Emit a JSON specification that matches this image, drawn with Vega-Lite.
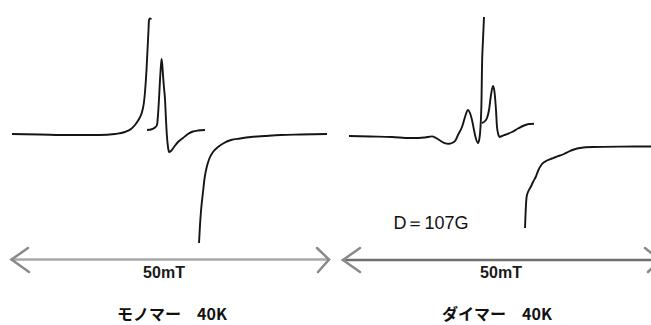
{
  "$schema": "https://vega.github.io/schema/vega-lite/v6.json",
  "width": 651,
  "height": 325,
  "autosize": {"type": "fit", "contains": "padding"},
  "padding": 0,
  "background": "white",
  "config": {"view": {"stroke": null}},
  "datasets": {
    "spectra": [
      {"seg": "L1", "i": 0, "x": 12, "y": 134},
      {"seg": "L1", "i": 1, "x": 40, "y": 134.5},
      {"seg": "L1", "i": 2, "x": 70, "y": 135},
      {"seg": "L1", "i": 3, "x": 99, "y": 135},
      {"seg": "L1", "i": 4, "x": 115, "y": 134},
      {"seg": "L1", "i": 5, "x": 125, "y": 132},
      {"seg": "L1", "i": 6, "x": 131, "y": 129},
      {"seg": "L1", "i": 7, "x": 135, "y": 125},
      {"seg": "L1", "i": 8, "x": 139, "y": 119},
      {"seg": "L1", "i": 9, "x": 142, "y": 112},
      {"seg": "L1", "i": 10, "x": 144, "y": 102},
      {"seg": "L1", "i": 11, "x": 145, "y": 92},
      {"seg": "L1", "i": 12, "x": 146.5, "y": 70},
      {"seg": "L1", "i": 13, "x": 147.5, "y": 50},
      {"seg": "L1", "i": 14, "x": 148.5, "y": 30},
      {"seg": "L1", "i": 15, "x": 149, "y": 20},
      {"seg": "L1", "i": 16, "x": 150, "y": 18.5},
      {"seg": "L1", "i": 17, "x": 151.5, "y": 19},
      {"seg": "L2", "i": 0, "x": 147, "y": 130},
      {"seg": "L2", "i": 1, "x": 151, "y": 129.5},
      {"seg": "L2", "i": 2, "x": 155, "y": 127.5},
      {"seg": "L2", "i": 3, "x": 157, "y": 125},
      {"seg": "L2", "i": 4, "x": 158, "y": 115},
      {"seg": "L2", "i": 5, "x": 159, "y": 99},
      {"seg": "L2", "i": 6, "x": 160, "y": 80},
      {"seg": "L2", "i": 7, "x": 161, "y": 65},
      {"seg": "L2", "i": 8, "x": 161.7, "y": 59},
      {"seg": "L2", "i": 9, "x": 163, "y": 75},
      {"seg": "L2", "i": 10, "x": 164, "y": 88},
      {"seg": "L2", "i": 11, "x": 165, "y": 99},
      {"seg": "L2", "i": 12, "x": 166, "y": 120},
      {"seg": "L2", "i": 13, "x": 167, "y": 137},
      {"seg": "L2", "i": 14, "x": 168, "y": 147},
      {"seg": "L2", "i": 15, "x": 169, "y": 152},
      {"seg": "L2", "i": 16, "x": 171, "y": 151},
      {"seg": "L2", "i": 17, "x": 174, "y": 147},
      {"seg": "L2", "i": 18, "x": 178, "y": 142},
      {"seg": "L2", "i": 19, "x": 183, "y": 138},
      {"seg": "L2", "i": 20, "x": 188, "y": 134},
      {"seg": "L2", "i": 21, "x": 193, "y": 131.5},
      {"seg": "L2", "i": 22, "x": 198, "y": 130.5},
      {"seg": "L2", "i": 23, "x": 205, "y": 130},
      {"seg": "L3", "i": 0, "x": 199, "y": 243},
      {"seg": "L3", "i": 1, "x": 200, "y": 225},
      {"seg": "L3", "i": 2, "x": 201, "y": 211},
      {"seg": "L3", "i": 3, "x": 203, "y": 192},
      {"seg": "L3", "i": 4, "x": 204.6, "y": 178},
      {"seg": "L3", "i": 5, "x": 207, "y": 166},
      {"seg": "L3", "i": 6, "x": 209.6, "y": 158},
      {"seg": "L3", "i": 7, "x": 213, "y": 152},
      {"seg": "L3", "i": 8, "x": 218, "y": 147},
      {"seg": "L3", "i": 9, "x": 224, "y": 143},
      {"seg": "L3", "i": 10, "x": 231, "y": 140},
      {"seg": "L3", "i": 11, "x": 240, "y": 138.5},
      {"seg": "L3", "i": 12, "x": 251, "y": 137},
      {"seg": "L3", "i": 13, "x": 265, "y": 136},
      {"seg": "L3", "i": 14, "x": 280.5, "y": 135},
      {"seg": "L3", "i": 15, "x": 300, "y": 134.5},
      {"seg": "L3", "i": 16, "x": 327, "y": 134},
      {"seg": "R1", "i": 0, "x": 349, "y": 136},
      {"seg": "R1", "i": 1, "x": 370, "y": 136.5},
      {"seg": "R1", "i": 2, "x": 392, "y": 137},
      {"seg": "R1", "i": 3, "x": 410, "y": 138},
      {"seg": "R1", "i": 4, "x": 418.6, "y": 138},
      {"seg": "R1", "i": 5, "x": 425, "y": 137.5},
      {"seg": "R1", "i": 6, "x": 432, "y": 136.4},
      {"seg": "R1", "i": 7, "x": 436, "y": 138},
      {"seg": "R1", "i": 8, "x": 440, "y": 140.5},
      {"seg": "R1", "i": 9, "x": 444, "y": 142.8},
      {"seg": "R1", "i": 10, "x": 448.7, "y": 143.8},
      {"seg": "R1", "i": 11, "x": 452, "y": 143},
      {"seg": "R1", "i": 12, "x": 455.4, "y": 140.5},
      {"seg": "R1", "i": 13, "x": 458, "y": 135},
      {"seg": "R1", "i": 14, "x": 462, "y": 127},
      {"seg": "R1", "i": 15, "x": 465, "y": 117},
      {"seg": "R1", "i": 16, "x": 468, "y": 110},
      {"seg": "R1", "i": 17, "x": 470, "y": 113},
      {"seg": "R1", "i": 18, "x": 472, "y": 120},
      {"seg": "R1", "i": 19, "x": 474, "y": 130},
      {"seg": "R1", "i": 20, "x": 475.5, "y": 137},
      {"seg": "R1", "i": 21, "x": 478, "y": 143},
      {"seg": "R1", "i": 22, "x": 479.5, "y": 138},
      {"seg": "R1", "i": 23, "x": 480.5, "y": 127},
      {"seg": "R1", "i": 24, "x": 481.5, "y": 100},
      {"seg": "R1", "i": 25, "x": 482, "y": 67},
      {"seg": "R1", "i": 26, "x": 483, "y": 40},
      {"seg": "R1", "i": 27, "x": 484, "y": 17},
      {"seg": "R2", "i": 0, "x": 482, "y": 123},
      {"seg": "R2", "i": 1, "x": 485, "y": 121},
      {"seg": "R2", "i": 2, "x": 487, "y": 118},
      {"seg": "R2", "i": 3, "x": 489, "y": 110},
      {"seg": "R2", "i": 4, "x": 491, "y": 95},
      {"seg": "R2", "i": 5, "x": 493, "y": 86},
      {"seg": "R2", "i": 6, "x": 494.5, "y": 92},
      {"seg": "R2", "i": 7, "x": 496, "y": 110},
      {"seg": "R2", "i": 8, "x": 497, "y": 127},
      {"seg": "R2", "i": 9, "x": 498.5, "y": 135},
      {"seg": "R2", "i": 10, "x": 499.6, "y": 137},
      {"seg": "R2", "i": 11, "x": 502, "y": 136},
      {"seg": "R2", "i": 12, "x": 506, "y": 134.5},
      {"seg": "R2", "i": 13, "x": 512, "y": 132},
      {"seg": "R2", "i": 14, "x": 518, "y": 128.5},
      {"seg": "R2", "i": 15, "x": 524, "y": 125.5},
      {"seg": "R2", "i": 16, "x": 529, "y": 124},
      {"seg": "R2", "i": 17, "x": 534, "y": 123.7},
      {"seg": "R3", "i": 0, "x": 525, "y": 228},
      {"seg": "R3", "i": 1, "x": 525.5, "y": 215},
      {"seg": "R3", "i": 2, "x": 526.6, "y": 197},
      {"seg": "R3", "i": 3, "x": 528, "y": 192},
      {"seg": "R3", "i": 4, "x": 530.7, "y": 187},
      {"seg": "R3", "i": 5, "x": 533, "y": 182},
      {"seg": "R3", "i": 6, "x": 535.7, "y": 177},
      {"seg": "R3", "i": 7, "x": 538, "y": 171},
      {"seg": "R3", "i": 8, "x": 542, "y": 164},
      {"seg": "R3", "i": 9, "x": 547, "y": 160.5},
      {"seg": "R3", "i": 10, "x": 552, "y": 158.5},
      {"seg": "R3", "i": 11, "x": 555.8, "y": 157},
      {"seg": "R3", "i": 12, "x": 560, "y": 155.5},
      {"seg": "R3", "i": 13, "x": 564, "y": 154},
      {"seg": "R3", "i": 14, "x": 569, "y": 151.5},
      {"seg": "R3", "i": 15, "x": 574, "y": 149.5},
      {"seg": "R3", "i": 16, "x": 580, "y": 148},
      {"seg": "R3", "i": 17, "x": 592.6, "y": 147},
      {"seg": "R3", "i": 18, "x": 620, "y": 146.6},
      {"seg": "R3", "i": 19, "x": 646, "y": 146.5},
      {"seg": "R3", "i": 20, "x": 651, "y": 146.5}
    ],
    "arrows": [
      {"seg": "A1", "tone": "light", "i": 0, "x": 11.5, "y": 259.5},
      {"seg": "A1", "tone": "light", "i": 1, "x": 329, "y": 259.5},
      {"seg": "H1", "tone": "head", "i": 0, "x": 28, "y": 248},
      {"seg": "H1", "tone": "head", "i": 1, "x": 11.5, "y": 259.5},
      {"seg": "H1", "tone": "head", "i": 2, "x": 29, "y": 272},
      {"seg": "H2", "tone": "head", "i": 0, "x": 317, "y": 248},
      {"seg": "H2", "tone": "head", "i": 1, "x": 329, "y": 259.5},
      {"seg": "H2", "tone": "head", "i": 2, "x": 318, "y": 272},
      {"seg": "A2", "tone": "dark", "i": 0, "x": 343, "y": 260},
      {"seg": "A2", "tone": "dark", "i": 1, "x": 660, "y": 260},
      {"seg": "H3", "tone": "head", "i": 0, "x": 360, "y": 248},
      {"seg": "H3", "tone": "head", "i": 1, "x": 343, "y": 260},
      {"seg": "H3", "tone": "head", "i": 2, "x": 360, "y": 272},
      {"seg": "H4", "tone": "head", "i": 0, "x": 645, "y": 248},
      {"seg": "H4", "tone": "head", "i": 1, "x": 660, "y": 260},
      {"seg": "H4", "tone": "head", "i": 2, "x": 648, "y": 272}
    ],
    "scale_labels": [
      {"label": "50mT", "x": 164, "y": 273},
      {"label": "50mT", "x": 501, "y": 273}
    ],
    "titles": [
      {"label": "モノマー　40K", "x": 172, "y": 315},
      {"label": "ダイマー　40K", "x": 497, "y": 315}
    ],
    "notes": [
      {"label": "D＝107G", "x": 431, "y": 224}
    ]
  },
  "layer": [
    {
      "data": {"name": "arrows"},
      "mark": {"type": "line", "clip": true, "strokeCap": "round"},
      "encoding": {
        "x": {"field": "x", "type": "quantitative", "scale": {"domain": [0, 651], "nice": false, "zero": false}, "axis": null},
        "y": {"field": "y", "type": "quantitative", "scale": {"domain": [0, 325], "nice": false, "zero": false, "reverse": true}, "axis": null},
        "detail": {"field": "seg"},
        "order": {"field": "i", "type": "quantitative"},
        "color": {"field": "tone", "type": "nominal", "scale": {"domain": ["light", "dark", "head"], "range": ["#a8a8a8", "#707070", "#8a8a8a"]}, "legend": null},
        "strokeWidth": {"field": "tone", "type": "nominal", "scale": {"domain": ["light", "dark", "head"], "range": [2.5, 2.5, 1.6]}, "legend": null}
      }
    },
    {
      "data": {"name": "spectra"},
      "mark": {"type": "line", "clip": true, "color": "#151515", "strokeWidth": 1.9, "interpolate": "monotone"},
      "encoding": {
        "x": {"field": "x", "type": "quantitative"},
        "y": {"field": "y", "type": "quantitative"},
        "detail": {"field": "seg"},
        "order": {"field": "i", "type": "quantitative"}
      }
    },
    {
      "data": {"name": "scale_labels"},
      "mark": {"type": "text", "font": "Liberation Sans", "fontWeight": "bold", "fontSize": 16, "color": "#1a1a1a", "align": "center", "baseline": "middle"},
      "encoding": {
        "x": {"field": "x", "type": "quantitative"},
        "y": {"field": "y", "type": "quantitative"},
        "text": {"field": "label"}
      }
    },
    {
      "data": {"name": "titles"},
      "mark": {"type": "text", "font": "Noto Sans CJK JP", "fontWeight": "bold", "fontSize": 16, "color": "#111111", "align": "center", "baseline": "middle"},
      "encoding": {
        "x": {"field": "x", "type": "quantitative"},
        "y": {"field": "y", "type": "quantitative"},
        "text": {"field": "label"}
      }
    },
    {
      "data": {"name": "notes"},
      "mark": {"type": "text", "font": "Liberation Sans", "fontSize": 18, "color": "#111111", "align": "center", "baseline": "middle"},
      "encoding": {
        "x": {"field": "x", "type": "quantitative"},
        "y": {"field": "y", "type": "quantitative"},
        "text": {"field": "label"}
      }
    }
  ]
}
